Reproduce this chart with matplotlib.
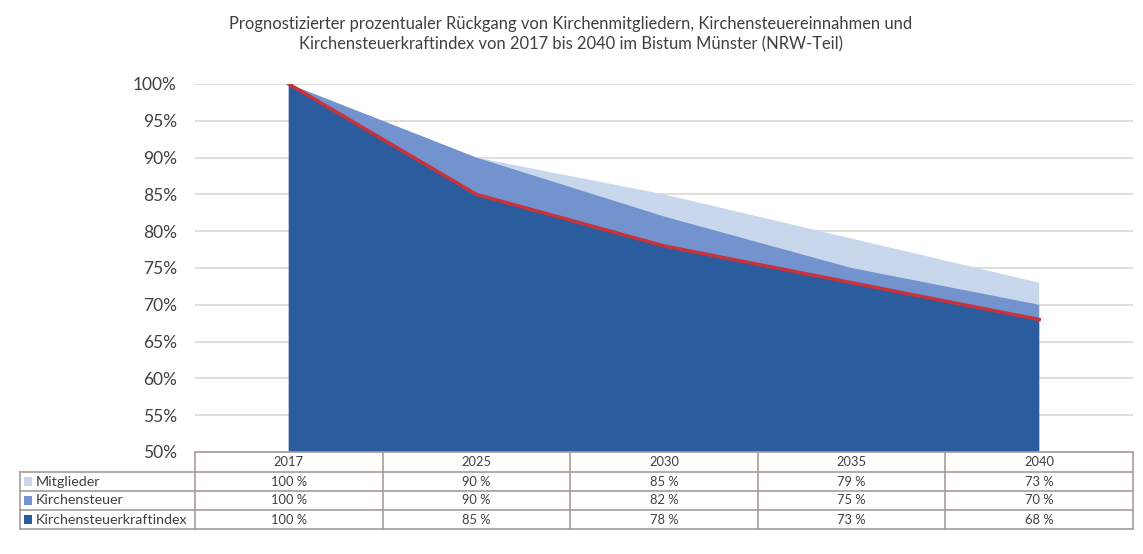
import numpy as np
import matplotlib.pyplot as plt
from matplotlib.patches import Rectangle
from matplotlib.transforms import blended_transform_factory

years = ["2017", "2025", "2030", "2035", "2040"]
mitglieder = [100, 90, 85, 79, 73]
kirchensteuer = [100, 90, 82, 75, 70]
kraftindex = [100, 85, 78, 73, 68]
series_names = ["Mitglieder", "Kirchensteuer", "Kirchensteuerkraftindex"]
yticks = np.arange(50, 101, 5)

plt.rcParams['font.family'] = ['Lato', 'DejaVu Sans']
text_col = '#404040'
colors = ['#c8d7ec', '#7393ce', '#2b5c9e']
red = '#c8323a'
grid_col = '#dcd7d2'
border_col = '#a59d96'

W, H = 1143, 554
fig = plt.figure(figsize=(W / 100, H / 100), dpi=100)
ax = fig.add_axes([195 / W, 1 - 452 / H, (1133 - 195) / W, (452 - 84) / H])

x = np.arange(len(years))
all_series = [mitglieder, kirchensteuer, kraftindex]
for vals, c in zip(all_series, colors):
    ax.fill_between(x, 0, vals, color=c, lw=0, zorder=2)
ax.plot(x, kraftindex, color=red, lw=2.5, zorder=3)

ax.set_xlim(-0.5, len(years) - 0.5)
ax.set_ylim(50, 100)
ax.set_yticks(yticks)
ax.set_yticklabels([f"{v}%" for v in yticks], fontsize=12.5, color=text_col)
ax.yaxis.grid(True, color=grid_col, lw=1.2)
ax.set_axisbelow(True)
ax.tick_params(axis='y', length=0, pad=13)
ax.tick_params(axis='x', length=0, labelbottom=False)
for s in ax.spines.values():
    s.set_visible(False)

# title
fig.text(571 / W, 1 - 34 / H,
         "Prognostizierter prozentualer Rückgang von Kirchenmitgliedern, Kirchensteuereinnahmen und\n"
         "Kirchensteuerkraftindex von 2017 bis 2040 im Bistum Münster (NRW-Teil)",
         ha='center', va='center', fontsize=11.9, color=text_col, linespacing=1.35)

# data table under the plot
trans = blended_transform_factory(ax.transData, fig.transFigure)
def fy(py):
    return 1 - py / H

rows_px = [452, 472, 491, 510, 529]
col_w = (1133 - 195) / len(years)
left_x = -0.5 - (195 - 20) / col_w
right_x = len(years) - 0.5
kw = dict(color=border_col, lw=1.2, transform=trans, clip_on=False, zorder=5)

ax.plot([-0.5, right_x], [fy(rows_px[0])] * 2, **kw)
for py in rows_px[1:]:
    ax.plot([left_x, right_x], [fy(py)] * 2, **kw)
for i in range(len(years) + 1):
    ax.plot([i - 0.5] * 2, [fy(rows_px[0]), fy(rows_px[-1])], **kw)
ax.plot([left_x] * 2, [fy(rows_px[1]), fy(rows_px[-1])], **kw)

tkw = dict(fontsize=9.3, color=text_col, transform=trans, va='center', ha='center')
for i, yr in enumerate(years):
    ax.text(i, fy((rows_px[0] + rows_px[1]) / 2), yr, **tkw)
for r, (name, vals, c) in enumerate(zip(series_names, all_series, colors)):
    yc = (rows_px[r + 1] + rows_px[r + 2]) / 2
    for i, v in enumerate(vals):
        ax.text(i, fy(yc), f"{v} %", **tkw)
    fig.patches.append(Rectangle((24 / W, fy(yc + 4.5)), 8 / W, 9 / H,
                                 transform=fig.transFigure, color=c, lw=0))
    fig.text(36 / W, fy(yc), name, fontsize=10.3, color=text_col, va='center', ha='left')

fig.savefig("out.png", dpi=100, facecolor='white')
